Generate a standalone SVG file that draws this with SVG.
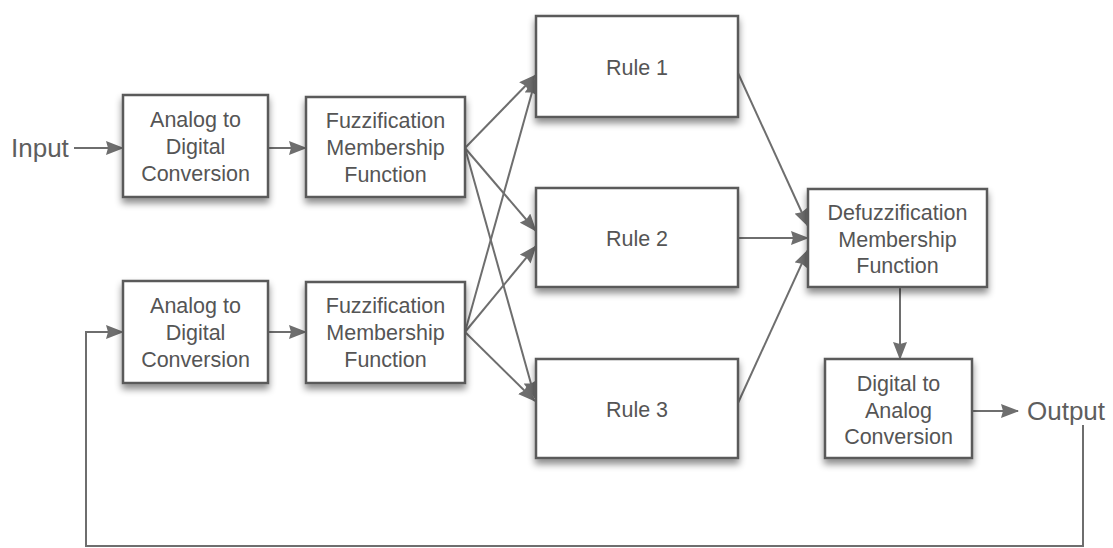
<svg xmlns="http://www.w3.org/2000/svg" width="1113" height="548" viewBox="0 0 1113 548">
<defs>
<filter id="sh" x="-20%" y="-20%" width="140%" height="150%">
<feDropShadow dx="0" dy="5" stdDeviation="3.5" flood-color="#000" flood-opacity="0.45"/>
</filter>
<marker id="ah" markerUnits="userSpaceOnUse" markerWidth="18" markerHeight="14" refX="17" refY="7" orient="auto">
<path d="M0,0 L18,7 L0,14 L2,7 z" fill="#6e6e6e"/>
</marker>
<style>
.box{fill:#fff;stroke:#5a5a5a;stroke-width:2.5;filter:url(#sh)}
.t{font-family:"Liberation Sans",Arial,sans-serif;font-size:21.5px;fill:#555;text-anchor:middle}
.io{font-family:"Liberation Sans",Arial,sans-serif;font-size:26px;fill:#5e5e5e}
.c{stroke:#6e6e6e;stroke-width:2;fill:none}
</style>
</defs>
<rect width="1113" height="548" fill="#fff"/>
<g id="connectors">
<line class="c" x1="74" y1="148" x2="123" y2="148" marker-end="url(#ah)"/>
<line class="c" x1="268" y1="148" x2="306" y2="148" marker-end="url(#ah)"/>
<line class="c" x1="268" y1="332" x2="306" y2="332" marker-end="url(#ah)"/>
<line class="c" x1="465" y1="148" x2="536" y2="75" marker-end="url(#ah)"/>
<line class="c" x1="465" y1="148" x2="536" y2="231" marker-end="url(#ah)"/>
<line class="c" x1="465" y1="148" x2="535" y2="398" marker-end="url(#ah)"/>
<line class="c" x1="465" y1="332" x2="536" y2="78" marker-end="url(#ah)"/>
<line class="c" x1="465" y1="332" x2="536" y2="246" marker-end="url(#ah)"/>
<line class="c" x1="465" y1="332" x2="535" y2="401" marker-end="url(#ah)"/>
<line class="c" x1="738" y1="73" x2="808" y2="226" marker-end="url(#ah)"/>
<line class="c" x1="738" y1="238" x2="808" y2="238" marker-end="url(#ah)"/>
<line class="c" x1="738" y1="403" x2="808" y2="250" marker-end="url(#ah)"/>
<line class="c" x1="900" y1="287" x2="900" y2="359" marker-end="url(#ah)"/>
<line class="c" x1="972" y1="411" x2="1018" y2="411" marker-end="url(#ah)"/>
<polyline class="c" points="1083,425 1083,546 86,546 86,332 123,332" marker-end="url(#ah)"/>
</g>
<g id="input"><text class="io" x="11" y="157">Input</text></g>
<g id="output"><text class="io" x="1027" y="420">Output</text></g>
<g id="adc1">
<rect class="box" x="123" y="95" width="145" height="102"/>
<text class="t" x="195.5" y="127">Analog to</text>
<text class="t" x="195.5" y="154">Digital</text>
<text class="t" x="195.5" y="181">Conversion</text>
</g>
<g id="adc2">
<rect class="box" x="123" y="281" width="145" height="102"/>
<text class="t" x="195.5" y="313">Analog to</text>
<text class="t" x="195.5" y="340">Digital</text>
<text class="t" x="195.5" y="367">Conversion</text>
</g>
<g id="fuzz1">
<rect class="box" x="306" y="97" width="159" height="100"/>
<text class="t" x="385.5" y="128">Fuzzification</text>
<text class="t" x="385.5" y="155">Membership</text>
<text class="t" x="385.5" y="182">Function</text>
</g>
<g id="fuzz2">
<rect class="box" x="306" y="282" width="159" height="101"/>
<text class="t" x="385.5" y="313">Fuzzification</text>
<text class="t" x="385.5" y="340">Membership</text>
<text class="t" x="385.5" y="367">Function</text>
</g>
<g id="rule1">
<rect class="box" x="536" y="16" width="202" height="101"/>
<text class="t" x="637" y="75">Rule 1</text>
</g>
<g id="rule2">
<rect class="box" x="536" y="188" width="202" height="99"/>
<text class="t" x="637" y="246">Rule 2</text>
</g>
<g id="rule3">
<rect class="box" x="536" y="359" width="202" height="99"/>
<text class="t" x="637" y="417">Rule 3</text>
</g>
<g id="defuzz">
<rect class="box" x="808" y="189" width="179" height="98"/>
<text class="t" x="897.5" y="220">Defuzzification</text>
<text class="t" x="897.5" y="247">Membership</text>
<text class="t" x="897.5" y="273">Function</text>
</g>
<g id="dac">
<rect class="box" x="825" y="359" width="147" height="99"/>
<text class="t" x="898.5" y="391">Digital to</text>
<text class="t" x="898.5" y="418">Analog</text>
<text class="t" x="898.5" y="444">Conversion</text>
</g>
</svg>
